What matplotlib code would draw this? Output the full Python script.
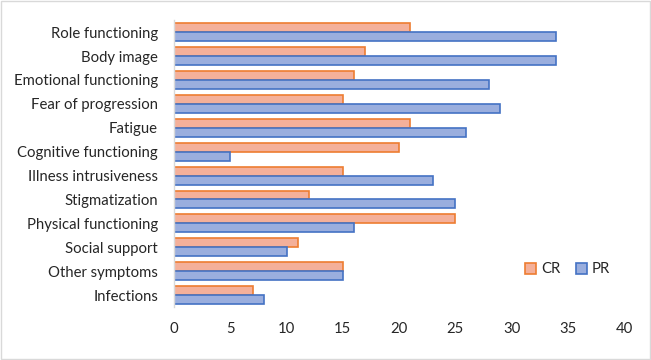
import matplotlib
matplotlib.use("Agg")
import matplotlib.pyplot as plt
import numpy as np
from matplotlib.patches import Rectangle

categories = ["Role functioning", "Body image", "Emotional functioning", "Fear of progression",
              "Fatigue", "Cognitive functioning", "Illness intrusiveness", "Stigmatization",
              "Physical functioning", "Social support", "Other symptoms", "Infections"]
cr_values = [21, 17, 16, 15, 21, 20, 15, 12, 25, 11, 15, 7]
pr_values = [34, 34, 28, 29, 26, 5, 23, 25, 16, 10, 15, 8]
x_ticks = [0, 5, 10, 15, 20, 25, 30, 35, 40]

plt.rcParams['font.family'] = ['Lato', 'DejaVu Sans']
fs = 10.7

fig = plt.figure(figsize=(6.51, 3.6), dpi=100)
ax = fig.add_axes([0.2673, 0.147, 0.6912, 0.797])

y = np.arange(len(categories))
h = 0.375
ax.barh(y - h/2, cr_values, height=h, color="#F4B09A", edgecolor="#ED7D31", linewidth=1.2, label="CR")
ax.barh(y + h/2, pr_values, height=h, color="#9AAEDE", edgecolor="#4472C4", linewidth=1.2, label="PR")

ax.set_yticks(y)
ax.set_yticklabels(categories, fontsize=fs, color="#262626")
ax.set_xticks(x_ticks)
ax.set_xticklabels([str(v) for v in x_ticks], fontsize=fs, color="#262626")
ax.set_xlim(0, 40)
ax.set_ylim(len(categories) - 0.5, -0.5)
ax.tick_params(axis="both", length=0)
ax.tick_params(axis="x", pad=11)
ax.tick_params(axis="y", pad=11.5)
for s in ["top", "right", "bottom"]:
    ax.spines[s].set_visible(False)
ax.spines["left"].set_color("#D9D9D9")
ax.spines["left"].set_linewidth(1.0)

leg = fig.legend(loc="center", bbox_to_anchor=(0.872, 0.252), ncol=2, frameon=False,
                 fontsize=fs, handlelength=0.75, handleheight=0.75, columnspacing=1.0, handletextpad=0.35)
for t in leg.get_texts():
    t.set_color("#262626")

fig.patches.append(Rectangle((0.0015, 0.0025), 0.997, 0.995, transform=fig.transFigure,
                             fill=False, edgecolor="#D9D9D9", linewidth=1.0))

fig.savefig("out.png", dpi=100)
